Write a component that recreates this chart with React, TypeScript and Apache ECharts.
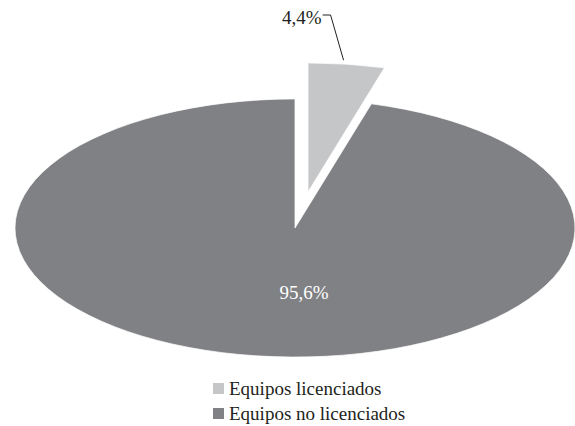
import React, { useEffect, useRef } from "react";
import * as echarts from "echarts";

const categories = ["Equipos licenciados", "Equipos no licenciados"];
const values = [4.4, 95.6];
const labels = ["4,4%", "95,6%"];
const colors = ["#c5c6c8", "#808184"];

const CX = 295;
const CY = 228;
const RX = 280;
const RY = 129;
const EXPLODE = [13, -36];
const FONT = "Liberation Serif, DejaVu Serif, serif";

export default function App() {
  const ref = useRef<HTMLDivElement>(null);
  useEffect(() => {
    if (!ref.current) return;
    const chart = echarts.init(ref.current, null, { renderer: "svg" });
    const total = values.reduce((a, b) => a + b, 0);
    const starts: number[] = [];
    let acc = 0;
    values.forEach((v) => {
      starts.push(acc);
      acc += v;
    });

    const series = categories.map((name, i) => ({
      type: "custom",
      name,
      coordinateSystem: "none",
      data: [values[i]],
      itemStyle: { color: colors[i] },
      renderItem: () => {
        const a0 = (starts[i] / total) * Math.PI * 2;
        const a1 = ((starts[i] + values[i]) / total) * Math.PI * 2;
        const mid = (a0 + a1) / 2;
        const exploded = i === 0;
        const ox = CX + (exploded ? EXPLODE[0] : 0);
        const oy = CY + (exploded ? EXPLODE[1] : 0);
        const children: any[] = [
          {
            type: "sector",
            x: ox,
            y: oy,
            scaleX: 1,
            scaleY: RY / RX,
            shape: {
              cx: 0,
              cy: 0,
              r0: 0,
              r: RX,
              startAngle: a0 - Math.PI / 2,
              endAngle: a1 - Math.PI / 2,
              clockwise: true,
            },
            style: { fill: colors[i], stroke: "#ffffff", lineWidth: 1, strokeNoScale: true },
          },
        ];
        if (exploded) {
          const px = ox + RX * Math.sin(mid);
          const py = oy - RY * Math.cos(mid);
          const kx = px - 16;
          const ky = 15;
          children.push({
            type: "polyline",
            shape: { points: [[px - 3, py - 4], [kx, ky], [kx - 8, ky]] },
            style: { stroke: "#231f20", lineWidth: 1, fill: null },
          });
          children.push({
            type: "text",
            x: kx - 9,
            y: ky + 2,
            style: {
              text: labels[i],
              fill: "#231f20",
              fontFamily: FONT,
              fontSize: 19,
              align: "right",
              verticalAlign: "middle",
            },
          });
        } else {
          children.push({
            type: "text",
            x: ox + 9,
            y: oy + 64,
            style: {
              text: labels[i],
              fill: "#ffffff",
              fontFamily: FONT,
              fontSize: 19,
              align: "center",
              verticalAlign: "middle",
            },
          });
        }
        return { type: "group", children };
      },
    }));

    const legendBase = {
      orient: "vertical",
      left: 208,
      itemWidth: 11,
      itemHeight: 11,
      itemGap: 5,
      icon: "rect",
      selectedMode: false,
      textStyle: { fontFamily: FONT, fontSize: 19, color: "#231f20" },
    };

    chart.setOption({
      animation: false,
      legend: [
        { ...legendBase, top: 374, data: [categories[0]] },
        { ...legendBase, top: 399, data: [categories[1]] },
      ],
      series,
    } as any);
    return () => chart.dispose();
  }, []);
  return (
    <div
      ref={ref}
      style={{ position: "fixed", left: 0, top: 0, width: 575, height: 426, background: "#ffffff" }}
    />
  );
}
